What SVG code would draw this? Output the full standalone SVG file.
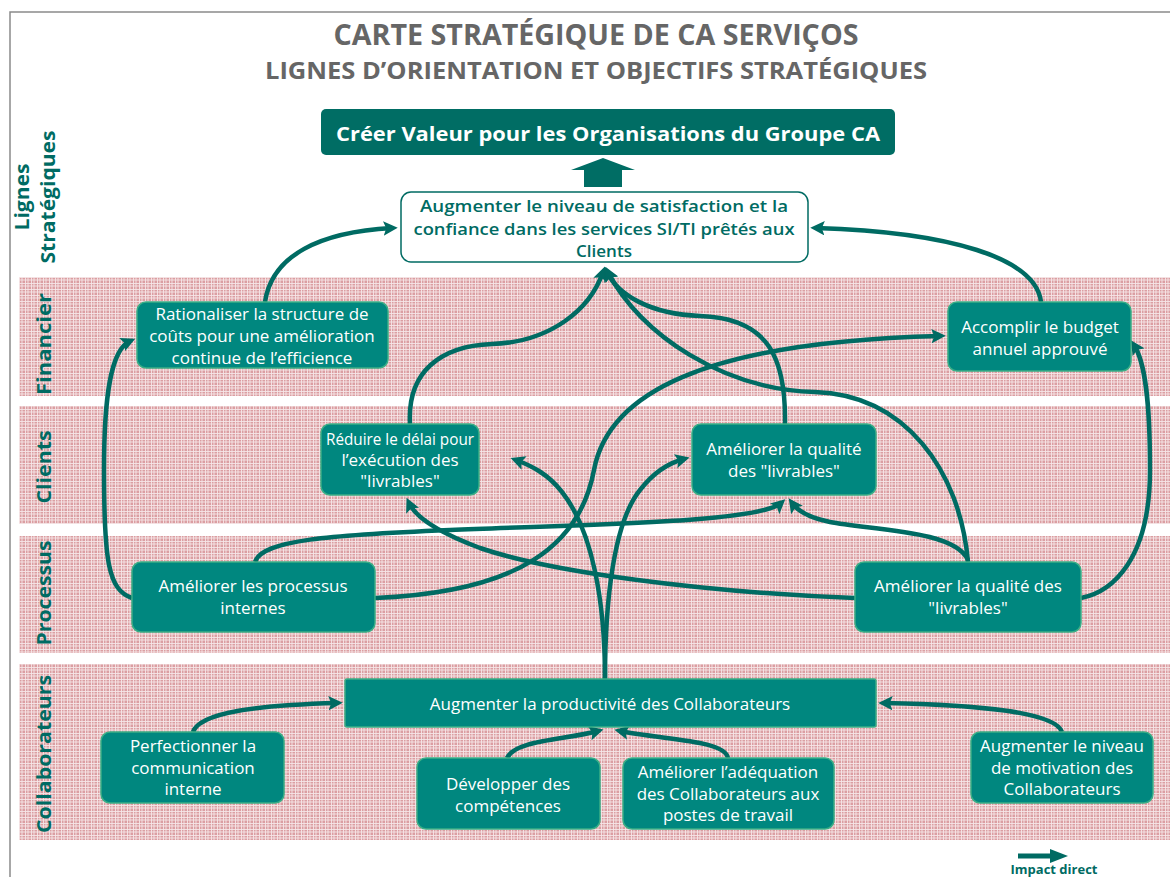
<svg xmlns="http://www.w3.org/2000/svg" width="1170" height="877" viewBox="0 0 1170 877">
<defs>
<pattern id="plaid" width="6" height="6" patternUnits="userSpaceOnUse">
<rect width="6" height="6" fill="#db9ea2"/>
<path d="M0 1.5H6M0 4H6M1.5 0V6M4 0V6" stroke="#ffffff" stroke-width="0.9" opacity="0.75"/>
</pattern>
<marker id="ah" viewBox="0 0 10 10" refX="6" refY="5" markerWidth="3.2" markerHeight="3.2" orient="auto" markerUnits="strokeWidth">
<path d="M0,0 L10,5 L0,10 L2,5 z" fill="#006b63"/>
</marker>
<style>
.band{fill:url(#plaid)}
.lane{font-family:"Open Sans","Noto Sans",sans-serif;font-weight:bold;font-size:20px;fill:#006b63;text-anchor:middle}
.node rect{fill:#00877f;stroke:#3aae86;stroke-width:1.5}
.node text{font-family:"Open Sans","Noto Sans",sans-serif;font-size:17px;fill:#ffffff;text-anchor:middle}
.conn path{fill:none;stroke:#006b63;stroke-width:4.5;marker-end:url(#ah)}
.title{font-family:"Open Sans","Noto Sans",sans-serif;font-weight:bold;fill:#666666;text-anchor:middle}
</style>
</defs>
<rect width="1170" height="877" fill="#ffffff"/>
<path d="M10,877 V12 H1170" fill="none" stroke="#8a8a8a" stroke-width="1.5"/>

<!-- bands -->
<rect class="band" x="19" y="277" width="1151" height="119"/>
<rect class="band" x="19" y="406" width="1151" height="118"/>
<rect class="band" x="19" y="536" width="1151" height="117"/>
<rect class="band" x="19" y="664" width="1151" height="176"/>

<!-- titles -->
<text class="title" x="596" y="45" font-size="28" textLength="525" lengthAdjust="spacingAndGlyphs">CARTE STRATÉGIQUE DE CA SERVIÇOS</text>
<text class="title" x="596" y="79" font-size="24" textLength="662" lengthAdjust="spacingAndGlyphs">LIGNES D’ORIENTATION ET OBJECTIFS STRATÉGIQUES</text>

<!-- lane labels -->
<text class="lane" transform="translate(29,197) rotate(-90)" textLength="67" lengthAdjust="spacingAndGlyphs">Lignes</text>
<text class="lane" transform="translate(55,197) rotate(-90)" textLength="133" lengthAdjust="spacingAndGlyphs">Stratégiques</text>
<text class="lane" transform="translate(51,344) rotate(-90)" textLength="102" lengthAdjust="spacingAndGlyphs">Financier</text>
<text class="lane" transform="translate(51,467) rotate(-90)" textLength="73" lengthAdjust="spacingAndGlyphs">Clients</text>
<text class="lane" transform="translate(51,593) rotate(-90)" textLength="105" lengthAdjust="spacingAndGlyphs">Processus</text>
<text class="lane" transform="translate(51,754) rotate(-90)" textLength="158" lengthAdjust="spacingAndGlyphs">Collaborateurs</text>

<!-- top nodes -->
<g id="creer">
<rect x="321" y="109" width="574" height="46" rx="5" fill="#006d64"/>
<text x="608" y="141" font-family="Open Sans, Noto Sans, sans-serif" font-weight="bold" font-size="20" fill="#ffffff" text-anchor="middle" textLength="544" lengthAdjust="spacingAndGlyphs">Créer Valeur pour les Organisations du Groupe CA</text>
</g>
<g id="bigarrow">
<polygon points="571,170 603,158 635,170 622,170 622,187 584,187 584,170" fill="#006d64"/>
</g>
<g id="satisfaction">
<rect x="401" y="192" width="407" height="70" rx="10" fill="#ffffff" stroke="#006b63" stroke-width="1.5"/>
<g font-family="Open Sans, Noto Sans, sans-serif" font-weight="600" font-size="17" fill="#006b63" text-anchor="middle">
<text x="604" y="212" textLength="368" lengthAdjust="spacingAndGlyphs">Augmenter le niveau de satisfaction et la</text>
<text x="604" y="235" textLength="381" lengthAdjust="spacingAndGlyphs">confiance dans les services SI/TI prêtés aux</text>
<text x="604" y="257">Clients</text>
</g>
</g>

<!-- connectors -->
<g id="connectors" class="conn">
<path d="M265,302 C272,255 320,232 392,228"/>
<path d="M1041,302 C1036,258 950,232 816,228"/>
<path d="M410,424 C407,372 440,346 492,344 C550,342 590,310 603,272"/>
<path d="M785,424 C786,360 770,318 700,316 C650,314 618,295 607,272"/>
<path d="M968,562 C960,470 905,395 815,392 C725,390 640,335 608,272"/>
<path d="M375,598 C520,592 580,545 594,470 C608,395 700,342 940,336"/>
<path d="M255,562 C262,540 330,535 450,530 C600,524 760,522 781,503"/>
<path d="M132,598 C108,590 104,560 104,470 C104,400 110,350 130,341"/>
<path d="M855,598 C700,592 550,572 480,548 C440,533 416,518 409,503"/>
<path d="M968,560 C955,530 870,530 830,522 C806,517 797,510 792,503"/>
<path d="M1081,598 C1112,592 1150,560 1150,470 C1150,400 1145,362 1134,345"/>
<path d="M605,679 C605,600 592,530 562,492 C548,474 532,466 516,460"/>
<path d="M605,679 C605,600 614,522 640,490 C654,472 668,463 684,459"/>
<path d="M193,732 C200,712 260,705 337,703"/>
<path d="M507,758 C515,740 565,740 598,731"/>
<path d="M728,758 C725,740 665,740 620,731"/>
<path d="M1062,732 C1055,712 980,705 884,703"/>
</g>

<!-- nodes -->
<g id="rationaliser" class="node">
<rect x="137" y="302" width="251" height="66" rx="9"/>
<text x="262" y="320">Rationaliser la structure de</text>
<text x="262" y="342">coûts pour une amélioration</text>
<text x="262" y="364">continue de l’efficience</text>
</g>
<g id="budget" class="node">
<rect x="948" y="302" width="183" height="69" rx="9"/>
<text x="1040" y="333">Accomplir le budget</text>
<text x="1040" y="355">annuel approuvé</text>
</g>
<g id="reduire" class="node">
<rect x="321" y="424" width="158" height="71" rx="9"/>
<text x="400" y="445" textLength="148" lengthAdjust="spacingAndGlyphs">Réduire le délai pour</text>
<text x="400" y="466">l’exécution des</text>
<text x="400" y="487">"livrables"</text>
</g>
<g id="qualite-clients" class="node">
<rect x="692" y="424" width="184" height="71" rx="9"/>
<text x="784" y="455">Améliorer la qualité</text>
<text x="784" y="477">des "livrables"</text>
</g>
<g id="processus-internes" class="node">
<rect x="132" y="562" width="243" height="70" rx="9"/>
<text x="253" y="592">Améliorer les processus</text>
<text x="253" y="614">internes</text>
</g>
<g id="qualite-processus" class="node">
<rect x="855" y="562" width="226" height="70" rx="9"/>
<text x="968" y="592">Améliorer la qualité des</text>
<text x="968" y="614">"livrables"</text>
</g>
<g id="productivite" class="node">
<rect x="345" y="679" width="531" height="48" rx="2"/>
<text x="610" y="710">Augmenter la productivité des Collaborateurs</text>
</g>
<g id="communication" class="node">
<rect x="101" y="732" width="183" height="71" rx="9"/>
<text x="193" y="752">Perfectionner la</text>
<text x="193" y="774">communication</text>
<text x="193" y="795">interne</text>
</g>
<g id="competences" class="node">
<rect x="417" y="758" width="183" height="71" rx="9"/>
<text x="508" y="790">Développer des</text>
<text x="508" y="812">compétences</text>
</g>
<g id="adequation" class="node">
<rect x="623" y="758" width="211" height="71" rx="9"/>
<text x="728" y="778">Améliorer l’adéquation</text>
<text x="728" y="800">des Collaborateurs aux</text>
<text x="728" y="821">postes de travail</text>
</g>
<g id="motivation" class="node">
<rect x="971" y="732" width="182" height="71" rx="9"/>
<text x="1062" y="752">Augmenter le niveau</text>
<text x="1062" y="774">de motivation des</text>
<text x="1062" y="795">Collaborateurs</text>
</g>

<!-- legend -->
<g id="legend">
<path d="M1018,856 H1052" stroke="#006b63" stroke-width="5" fill="none"/>
<polygon points="1050,849 1068,856 1050,863" fill="#006b63"/>
<text x="1054" y="874" font-family="Open Sans, Noto Sans, sans-serif" font-weight="bold" font-size="13" fill="#006b63" text-anchor="middle">Impact direct</text>
</g>
</svg>
